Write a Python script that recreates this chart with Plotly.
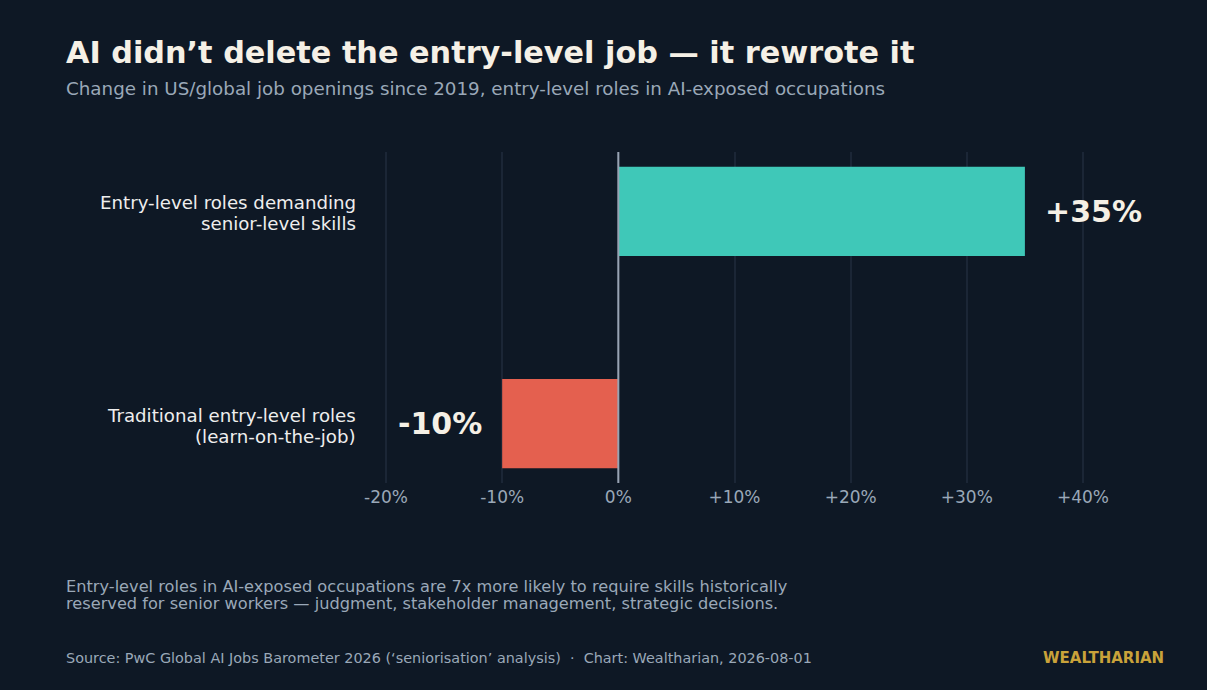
import plotly.graph_objects as go

categories = ["Traditional entry-level roles<br>(learn-on-the-job)",
              "Entry-level roles demanding<br>senior-level skills"]
values = [-10, 35]
value_labels = ["-10%", "+35%"]
bar_colors = ["#e4604f", "#3fc8b8"]
tick_vals = [-20, -10, 0, 10, 20, 30, 40]
tick_text = ["-20%", "-10%", "0%", "+10%", "+20%", "+30%", "+40%"]
footnote_lines = ["Entry-level roles in AI-exposed occupations are 7x more likely to require skills historically",
                  "reserved for senior workers — judgment, stakeholder management, strategic decisions."]

BG = "#0e1825"
W, H = 1207, 690
L, R, T, B = 383, 121, 152, 207
PW, PH = W - L - R, H - T - B

def px(x):
    return (x - L) / PW

def py(y):
    return (H - B - y) / PH

fig = go.Figure()
fig.add_trace(go.Bar(
    x=values, y=[0, 1], orientation="h",
    marker=dict(color=bar_colors, line=dict(width=0)),
    width=0.42, hoverinfo="skip",
))

for v, lab, yi in zip(values, value_labels, [0, 1]):
    fig.add_annotation(
        x=v, y=yi, xref="x", yref="y", text=lab, showarrow=False,
        xanchor="left" if v > 0 else "right",
        xshift=18 if v > 0 else -18,
        font=dict(family="DejaVu Sans", size=30, color="#f5f0e6", weight="bold"),
    )

# category labels (two lines each, tighter line spacing)
for yi, cat in enumerate(categories):
    parts = cat.split("<br>")
    for k, part in enumerate(parts):
        fig.add_annotation(
            x=px(358), y=yi, xref="paper", yref="y", text=part, showarrow=False,
            xanchor="right", yanchor="middle",
            yshift=(-2 + 10.5) - 21 * k,
            font=dict(family="DejaVu Sans", size=18.2, color="#eeeeee"),
        )

fig.add_shape(type="line", x0=0, x1=0, y0=0, y1=1, xref="x", yref="paper",
              line=dict(color="#98a3b3", width=2), layer="above")

anns = [
    dict(x=px(64), y=py(52), text="AI didn’t delete the entry-level job — it rewrote it",
         font=dict(family="DejaVu Sans", size=30.3, color="#f5f0e6", weight="bold"), xanchor="left"),
    dict(x=px(64), y=py(88), text="Change in US/global job openings since 2019, entry-level roles in AI-exposed occupations",
         font=dict(family="DejaVu Sans", size=18.3, color="#9aa8b8"), xanchor="left"),
    dict(x=px(64), y=py(586), text=footnote_lines[0],
         font=dict(family="DejaVu Sans", size=16.2, color="#9aa8b8"), xanchor="left"),
    dict(x=px(64), y=py(603), text=footnote_lines[1],
         font=dict(family="DejaVu Sans", size=16.2, color="#9aa8b8"), xanchor="left"),
    dict(x=px(64), y=py(658), text="Source: PwC Global AI Jobs Barometer 2026 (‘seniorisation’ analysis)  ·  Chart: Wealtharian, 2026-08-01",
         font=dict(family="DejaVu Sans", size=14.4, color="#9aa8b8"), xanchor="left"),
    dict(x=px(1166), y=py(658), text="WEALTHARIAN",
         font=dict(family="DejaVu Sans", size=15, color="#c9a23a", weight="bold"), xanchor="right"),
]
for a in anns:
    fig.add_annotation(xref="paper", yref="paper", showarrow=False, yanchor="middle", **a)

fig.update_layout(
    width=W, height=H,
    paper_bgcolor=BG, plot_bgcolor=BG,
    margin=dict(l=L, r=R, t=T, b=B),
    showlegend=False,
    font=dict(family="DejaVu Sans"),
    xaxis=dict(range=[-20.26, 40.26], tickvals=tick_vals, ticktext=tick_text,
               showgrid=True, gridcolor="#1b2636", gridwidth=1.5, zeroline=False,
               showline=False, ticks="", ticklabelstandoff=2,
               tickfont=dict(family="DejaVu Sans", size=17, color="#9aa8b8")),
    yaxis=dict(range=[-0.28, 1.28], showticklabels=False,
               showgrid=False, zeroline=False, showline=False, ticks=""),
)

fig.write_html("out.html", config={"displayModeBar": False},
               post_script="document.body.style.margin='0';document.body.style.background='#0e1825';")
